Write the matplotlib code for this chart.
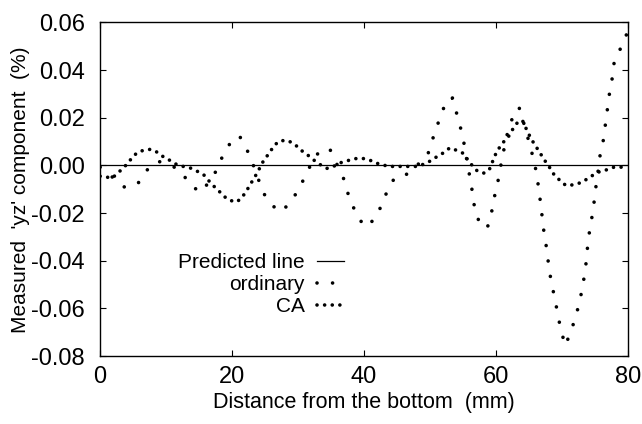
import matplotlib
matplotlib.use("Agg")
import matplotlib.pyplot as plt

plt.rcParams["font.family"] = ["Liberation Sans", "DejaVu Sans"]
plt.rcParams["axes.unicode_minus"] = False

# predicted line (zero)
pred_x = [0, 80]
pred_y = [0.0, 0.0]

# CA series
ca_x = [0, 0.8, 1.5, 1.9, 2.5, 3.4, 4.1, 4.8, 5.6, 6.6, 7.7, 8.7, 9.6, 10.8,
        11.6, 12.6, 13.7, 14.7, 15.7, 16.4, 17.2, 18.0, 18.8, 19.6, 20.7, 21.5,
        22.1, 22.7, 23.2, 23.9, 24.4, 25.0, 25.7, 26.3, 27.1, 28.2, 29.1, 30.0,
        30.8, 31.7, 32.6, 33.5, 34.4, 35.5, 36.5, 37.5, 38.5, 39.5, 40.7, 41.7,
        42.7, 43.7, 44.7, 45.7, 46.9, 48.1, 49.2, 50.2, 51.1, 52.1, 53.0, 54.1,
        55.2, 55.7, 56.4, 57.2, 58.2, 59.0, 59.4, 59.8, 60.3, 61.1, 61.9, 62.5,
        63.2, 64.0, 64.9, 65.6, 66.4, 67.4, 68.2, 68.8, 69.6, 70.6, 71.8, 73.1,
        74.2, 75.5, 76.8, 77.9, 79.1, 80]
ca_y = [-0.0045, -0.005, -0.0049, -0.0052, -0.0035, -0.0014, 0.0007, 0.0031,
        0.0054, 0.0064, 0.0068, 0.0055, 0.0036, 0.0018, 0.0004, -0.0004,
        -0.0011, -0.0024, -0.0039, -0.0062, -0.0086, -0.0107, -0.013, -0.0146,
        -0.0153, -0.0135, -0.0109, -0.0084, -0.0058, -0.0028, 0.0003, 0.0029,
        0.0054, 0.0081, 0.0102, 0.0106, 0.0096, 0.0077, 0.0056, 0.0039, 0.0018,
        0.0001, -0.0012, -0.0002, 0.0012, 0.002, 0.0028, 0.0031, 0.0025, 0.0011,
        0.0004, -0.0004, -0.0004, -0.0004, -0.0004, -0.0004, 0.0007, 0.0021,
        0.0038, 0.0054, 0.0074, 0.0063, 0.0049, 0.0024, 0.0, -0.0024, -0.0032,
        -0.0017, 0.001, 0.0039, 0.0066, 0.0097, 0.0121, 0.015, 0.0178, 0.019,
        0.0135, 0.010, 0.0065, 0.0021, -0.0011, -0.0038, -0.006, -0.0084,
        -0.0081, -0.007, -0.0049, -0.0028, -0.0018, -0.0007, -0.0007, -0.0006]

# ordinary series
ord_x = [0, 1.9, 3.7, 5.7, 6.9, 8.7, 10.5, 12.3, 13.5, 15.2, 16.5, 17.7, 18.6,
         19.7, 21.1, 22.2, 23.1, 23.9, 24.6, 25.9, 27.3, 28.9, 30.0, 31.1, 32.2,
         33.3, 34.8, 35.8, 36.8, 37.4, 38.2, 39.1, 40.3, 41.8, 42.7, 43.6, 44.7,
         46.4, 48.0, 49.6, 50.3, 51.0, 51.8, 52.6, 53.4, 54.0, 54.6, 55.1, 55.6,
         56.3, 56.6, 57.0, 58.2, 58.8, 59.4, 59.8, 60.3, 61.0, 61.7, 62.5, 63.5,
         64.3, 65.2, 65.9, 66.3, 66.6, 66.9, 67.1, 67.5, 67.8, 68.1, 68.5, 69.0,
         69.4, 69.9, 70.5, 71.1, 71.9, 72.5, 73.0, 73.4, 73.7, 73.9, 74.2, 74.6,
         74.9, 75.2, 75.5, 75.8, 76.3, 76.6, 76.9, 77.2, 77.6, 77.9, 78.8, 79.8]
ord_y = [-0.0007, -0.005, -0.0091, -0.0077, -0.0024, 0.0018, 0.0005, -0.0025,
         -0.0077, -0.0113, -0.007, -0.0018, 0.0042, 0.0093, 0.0125, 0.007, 0.001,
         -0.005, -0.0109, -0.0163, -0.0195, -0.0156, -0.0102, -0.0046, 0.002,
         0.0061, 0.007, 0.001, -0.0045, -0.0105, -0.0163, -0.022, -0.0258,
         -0.0219, -0.0163, -0.0102, -0.0049, -0.0038, 0.0, 0.004, 0.0102, 0.016,
         0.0221, 0.0279, 0.0283, 0.0223, 0.0162, 0.0102, 0.002, -0.0088, -0.015,
         -0.0212, -0.0265, -0.0253, -0.0188, -0.0128, -0.0067, 0.004, 0.013,
         0.020, 0.0244, 0.017, 0.008, 0.0004, -0.006, -0.0123, -0.0185, -0.0248,
         -0.0313, -0.0376, -0.0442, -0.0504, -0.0567, -0.0631, -0.0694, -0.0756,
         -0.0715, -0.0652, -0.0592, -0.0529, -0.0464, -0.0401, -0.0337, -0.0273,
         -0.0209, -0.0149, -0.0079, -0.002, 0.0046, 0.0109, 0.0174, 0.0237, 0.03,
         0.0362, 0.0428, 0.0486, 0.055]

x_ticks = [0, 20, 40, 60, 80]
y_ticks = [-0.08, -0.06, -0.04, -0.02, 0.00, 0.02, 0.04, 0.06]

fig, ax = plt.subplots(figsize=(6.42, 4.24), dpi=100)
fig.subplots_adjust(left=0.156, right=0.978, top=0.947, bottom=0.16)

ax.plot(pred_x, pred_y, color="black", lw=0.9, label="Predicted line")
ax.plot(ord_x, ord_y, color="black", lw=2.6, ls=(0, (0.01, 4.3)),
        dash_capstyle="round", label="ordinary")
ax.plot(ca_x, ca_y, color="black", lw=2.6, ls=(0, (0.01, 2.1)),
        dash_capstyle="round", label="CA")

ax.set_xlim(0, 80)
ax.set_ylim(-0.08, 0.06)
ax.set_xticks(x_ticks)
ax.set_yticks(y_ticks)
ax.set_yticklabels([f"{v:.2f}" for v in y_ticks])
ax.tick_params(direction="in", top=True, right=True, labelsize=17, length=4)
ax.tick_params(axis="y", pad=11)
ax.tick_params(axis="x", pad=7)
for s in ax.spines.values():
    s.set_linewidth(1.0)

ax.set_xlabel("Distance from the bottom  (mm)", fontsize=15.5, labelpad=3)
ax.set_ylabel("Measured  'yz' component  (%)", fontsize=15, labelpad=1)

ax.legend(loc="center right", bbox_to_anchor=(0.482, 0.215), frameon=False,
          markerfirst=False, fontsize=15, handlelength=1.3, handletextpad=0.6,
          labelspacing=0.15, borderpad=0)

fig.savefig("out.png")
